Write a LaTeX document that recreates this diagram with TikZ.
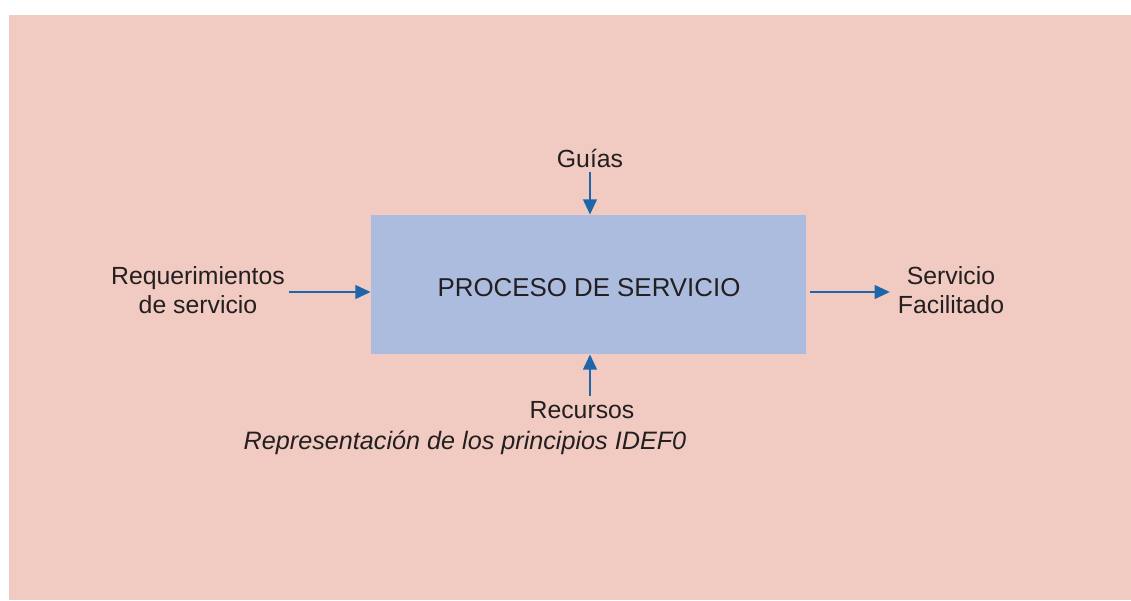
\documentclass[tikz,border=0pt]{standalone}
\usepackage{fontspec}
\setmainfont{Liberation Sans}
\usetikzlibrary{arrows.meta}
\definecolor{bgpink}{HTML}{F1CBC1}
\definecolor{boxblue}{HTML}{ABBCDF}
\definecolor{arrowblue}{HTML}{1F65AA}
\definecolor{txt}{HTML}{231F20}
\begin{document}
\begin{tikzpicture}[x=0.75pt,y=-0.75pt,
  lbl/.style={text=txt,font=\fontsize{18.6}{21.75}\selectfont,align=center,inner sep=0pt},
  flow/.style={draw=arrowblue,line width=2.2pt,-{Triangle[length=11.5pt,width=10pt]}},
  procbox/.style={fill=boxblue,draw=none,minimum width=326.25pt,minimum height=104.25pt,inner sep=0pt}]
\useasboundingbox (0,0) rectangle (1131,600);
\fill[bgpink] (9,15) rectangle (1131,600);
\node[procbox] (proc) at (588.5,284.5) {};
\node[lbl,font=\fontsize{19.4}{22}\selectfont] (ptext) at (589,288) {PROCESO DE SERVICIO};
\node[lbl] (guias) at (590,158) {Guías};
\node[lbl] (recursos) at (582,410) {Recursos};
\node[lbl] (req) at (198,290) {Requerimientos\\de servicio};
\node[lbl] (serv) at (951,290) {Servicio\\Facilitado};
\node[lbl,font=\fontsize{18.9}{21.75}\itshape] (cap) at (465,443) {Representación de los principios IDEF0};
\coordinate (g0) at (590,172);
\coordinate (r0) at (590,396);
\coordinate (l0) at (289,292);
\coordinate (o1) at (890,292);
\draw[flow] (g0) -- (proc.north -| g0);
\draw[flow] (r0) -- (proc.south -| r0);
\draw[flow] (l0) -- (proc.west |- l0);
\draw[flow] ([xshift=3pt]proc.east |- o1) -- (o1);
\end{tikzpicture}
\end{document}
